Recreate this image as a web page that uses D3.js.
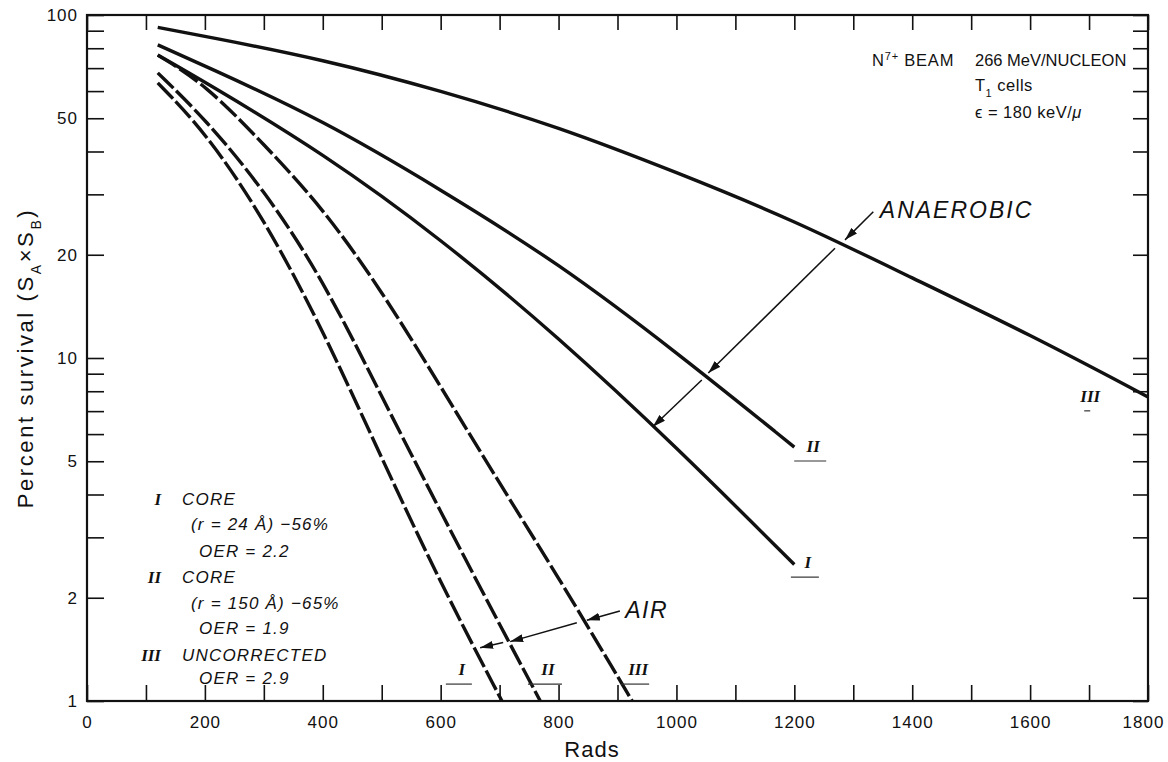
<!DOCTYPE html>
<html>
<head>
<meta charset="utf-8">
<script src="https://cdn.jsdelivr.net/npm/d3@7/dist/d3.min.js"></script>
<style>
  body { margin: 0; background: #fff; }
  text { font-family: "Liberation Sans", Arial, sans-serif; fill: #111; }
</style>
</head>
<body>
<div id="chart"></div>
<script>
// ---- data (rads, percent survival) ----
const anaerobicIII = [[120, 92], [200, 86.7], [400, 74.2], [600, 60.2], [800, 47.2], [1000, 34.8], [1200, 25.2], [1400, 17.1], [1600, 11.7], [1800, 7.7]];
const anaerobicII = [[120, 81.8], [200, 71.1], [400, 49.4], [600, 31.0], [800, 18.9], [1000, 10.4], [1200, 5.5]];
const anaerobicI = [[120, 76.4], [200, 63.8], [400, 39.6], [600, 22.3], [800, 11.5], [1000, 5.5], [1200, 2.5]];
const airIII = [[120, 76.4], [200, 63.0], [300, 42], [400, 27.4], [500, 15.7], [600, 8.25], [700, 4.31], [800, 2.29], [900, 1.18], [925, 1]];
const airII = [[120, 67.8], [200, 49.9], [300, 31.0], [400, 17.0], [500, 7.71], [600, 3.56], [700, 1.67], [769, 1]];
const airI = [[120, 63.4], [200, 45.8], [300, 25.6], [400, 12.1], [500, 5.1], [600, 2.2], [704, 1]];

const xTickLabels = [0, 200, 400, 600, 800, 1000, 1200, 1400, 1600, 1800];
const xMinorTicks = d3.range(0, 1801, 100);
const yTickLabels = [1, 2, 5, 10, 20, 50, 100];
const yMinorTicks = [1, 2, 3, 4, 5, 6, 7, 8, 9, 10, 20, 30, 40, 50, 60, 70, 80, 90, 100];

// curve labels (roman numeral, rads, percent, underline width)
const curveLabels = [
  ["I", 636, 1.19, 26], ["II", 782, 1.19, 34], ["III", 935, 1.19, 28],
  ["I", 1223, 2.44, 28], ["II", 1232, 5.32, 32], ["III", 1702, 7.45, 6]
];
// arrows: [from, to] in (rads, percent)
const anaerobicArrows = [[[1334, 26.7], [1286, 22.1]], [[1269, 20.9], [1054, 9.04]], [[1043, 8.63], [960, 6.3]]];
const airArrows = [[[904, 1.83], [848, 1.72]], [[831, 1.69], [718, 1.49]], [[706, 1.48], [667, 1.43]]];

const legendRows = [
  ["I", "CORE"], ["", "(r = 24 Å) −56%"], ["", "OER = 2.2"],
  ["II", "CORE"], ["", "(r = 150 Å) −65%"], ["", "OER = 1.9"],
  ["III", "UNCORRECTED"], ["", "OER = 2.9"]
];
const legendBaselines = [505, 530, 557, 583, 609, 634, 661, 684];

// ---- chart ----
const svg = d3.select("#chart").append("svg")
    .attr("width", 1168)
    .attr("height", 762);

const x = d3.scaleLinear().domain([0, 1800]).range([87, 1148]);
const y = d3.scaleLog().domain([1, 100]).range([701, 15]);

const defs = svg.append("defs");
defs.append("marker")
    .attr("id", "head")
    .attr("viewBox", "0 0 13 8")
    .attr("refX", 13)
    .attr("refY", 4)
    .attr("markerWidth", 13)
    .attr("markerHeight", 8)
    .attr("markerUnits", "userSpaceOnUse")
    .attr("orient", "auto")
  .append("path")
    .attr("d", "M0,0L13,4L0,8Z")
    .attr("fill", "#111");

// axes (ticks point inward on all four sides)
svg.append("g")
    .attr("transform", "translate(0,701)")
    .call(d3.axisBottom(x).tickValues(xMinorTicks).tickSize(-16).tickSizeOuter(0).tickPadding(15)
        .tickFormat(d => xTickLabels.includes(d) ? d : ""))
  .selectAll(".tick text")
    .attr("dx", d => d === 1800 ? -5 : 0);
svg.append("g")
    .attr("transform", "translate(87,0)")
    .call(d3.axisLeft(y).tickValues(yMinorTicks).tickSize(-17).tickSizeOuter(0).tickPadding(9)
        .tickFormat(d => yTickLabels.includes(d) ? d : ""));
svg.append("g")
    .attr("transform", "translate(0,15)")
    .call(d3.axisTop(x).tickValues(xMinorTicks).tickSize(-15).tickSizeOuter(0).tickFormat(""));
svg.append("g")
    .attr("transform", "translate(1148,0)")
    .call(d3.axisRight(y).tickValues(yMinorTicks).tickSize(-15).tickSizeOuter(0).tickFormat(""));

svg.selectAll(".domain").remove();
svg.selectAll(".tick line").attr("stroke", "#111").attr("stroke-width", 1.6);
svg.selectAll(".tick text")
    .style("font-family", "'Liberation Sans', Arial, sans-serif")
    .style("font-size", "17px")
    .style("letter-spacing", "1px")
    .attr("fill", "#111");

svg.append("rect")
    .attr("x", x(0))
    .attr("y", y(100))
    .attr("width", x(1800) - x(0))
    .attr("height", y(1) - y(100))
    .attr("fill", "none")
    .attr("stroke", "#111")
    .attr("stroke-width", 2.2);

// curves
const line = d3.line()
    .x(d => x(d[0]))
    .y(d => y(d[1]))
    .curve(d3.curveBasis);

const series = [
  { values: anaerobicIII, dashed: false },
  { values: anaerobicII, dashed: false },
  { values: anaerobicI, dashed: false },
  { values: airIII, dashed: true },
  { values: airII, dashed: true },
  { values: airI, dashed: true }
];

svg.selectAll(".curve")
  .data(series)
  .join("path")
    .attr("class", "curve")
    .attr("d", d => line(d.values))
    .attr("fill", "none")
    .attr("stroke", "#111")
    .attr("stroke-width", 3.4)
    .attr("stroke-dasharray", d => d.dashed ? "22,4" : null);

// arrows
svg.selectAll(".arrow")
  .data(anaerobicArrows.concat(airArrows))
  .join("line")
    .attr("class", "arrow")
    .attr("x1", d => x(d[0][0]))
    .attr("y1", d => y(d[0][1]))
    .attr("x2", d => x(d[1][0]))
    .attr("y2", d => y(d[1][1]))
    .attr("stroke", "#111")
    .attr("stroke-width", 1.5)
    .attr("marker-end", "url(#head)");

// curve numerals with little underline
const cl = svg.selectAll(".clabel")
  .data(curveLabels)
  .join("g")
    .attr("class", "clabel")
    .attr("transform", d => `translate(${x(d[1])},${y(d[2])})`);
cl.append("text")
    .attr("text-anchor", "middle")
    .style("font-family", "'Liberation Serif', 'Times New Roman', serif")
    .style("font-style", "italic")
    .style("font-weight", "bold")
    .style("font-size", "17px")
    .text(d => d[0]);
cl.append("line")
    .attr("x1", d => -d[3] / 2 - 3).attr("x2", d => d[3] / 2 - 3)
    .attr("y1", 9).attr("y2", 9)
    .attr("stroke", "#333")
    .attr("stroke-width", 1.2);

// annotation labels
svg.append("text")
    .attr("x", x(1345))
    .attr("y", y(25.6))
    .style("font-size", "23px")
    .style("font-style", "italic")
    .style("letter-spacing", "2px")
    .text("ANAEROBIC");

svg.append("text")
    .attr("x", x(913))
    .attr("y", y(1.75))
    .style("font-size", "23px")
    .style("font-style", "italic")
    .style("letter-spacing", "1.5px")
    .text("AIR");

// beam info, upper right
const beam = svg.append("text")
    .attr("x", 872)
    .attr("y", 66)
    .style("font-size", "16.5px")
    .style("letter-spacing", "0.8px");
beam.append("tspan").text("N");
beam.append("tspan").attr("baseline-shift", "super").style("font-size", "11px").text("7+");
beam.append("tspan").text(" BEAM");

svg.append("text")
    .attr("x", 975)
    .attr("y", 66)
    .style("font-size", "16.5px")
    .text("266 MeV/NUCLEON");

const cells = svg.append("text")
    .attr("x", 975)
    .attr("y", 91)
    .style("font-size", "16.5px")
    .style("letter-spacing", "0.5px");
cells.append("tspan").text("T");
cells.append("tspan").attr("baseline-shift", "sub").style("font-size", "11px").text("1");
cells.append("tspan").text(" cells");

const let_ = svg.append("text")
    .attr("x", 975)
    .attr("y", 118)
    .style("font-size", "16.5px")
    .style("letter-spacing", "0.5px");
let_.append("tspan").text("ϵ = 180 keV/");
let_.append("tspan").style("font-style", "italic").text("μ");

// legend block, lower left
const rows = svg.selectAll(".legrow")
  .data(legendRows)
  .join("g")
    .attr("class", "legrow")
    .attr("transform", (d, i) => `translate(0,${legendBaselines[i]})`);
rows.append("text")
    .attr("x", 161)
    .attr("text-anchor", "end")
    .style("font-family", "'Liberation Serif', 'Times New Roman', serif")
    .style("font-style", "italic")
    .style("font-weight", "bold")
    .style("font-size", "17px")
    .text(d => d[0]);
rows.append("text")
    .attr("x", d => d[0] ? 182 : (d[1].startsWith("(") ? 191 : 199))
    .style("font-style", "italic")
    .style("font-size", "17px")
    .style("letter-spacing", "1.2px")
    .text(d => d[1]);

// axis titles
svg.append("text")
    .attr("x", 592)
    .attr("y", 757)
    .attr("text-anchor", "middle")
    .style("font-size", "22px")
    .style("letter-spacing", "1px")
    .text("Rads");

const ylab = svg.append("text")
    .attr("transform", "translate(33,358) rotate(-90)")
    .attr("text-anchor", "middle")
    .style("font-size", "22px")
    .style("letter-spacing", "2.6px");
ylab.append("tspan").text("Percent survival (S");
ylab.append("tspan").attr("baseline-shift", "sub").style("font-size", "14px").text("A");
ylab.append("tspan").text("×S");
ylab.append("tspan").attr("baseline-shift", "sub").style("font-size", "14px").text("B");
ylab.append("tspan").text(")");
</script>
</body>
</html>
